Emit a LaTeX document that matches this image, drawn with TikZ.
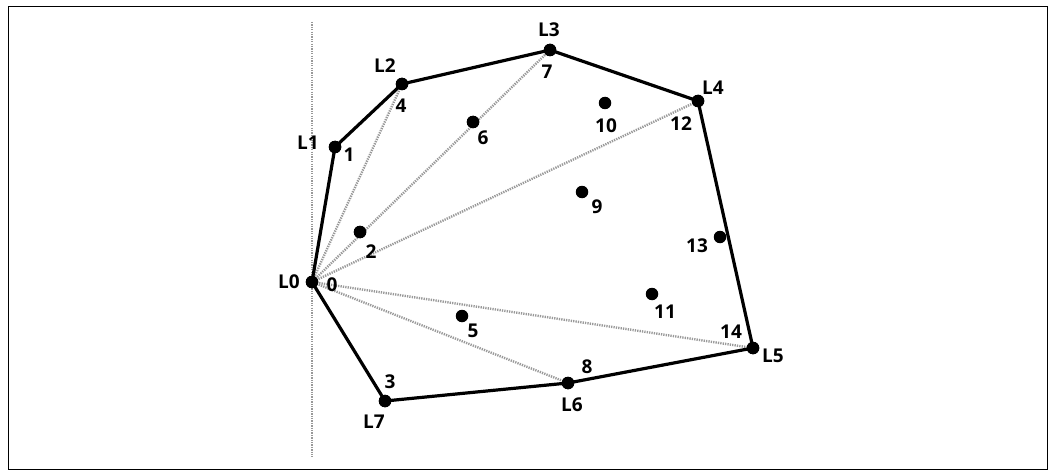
\documentclass[tikz,border=0pt]{standalone}
\usepackage{fontspec}
\setmainfont{Open Sans}
\begin{document}
\begin{tikzpicture}[x=1pt,y=-1pt,
  pt/.style={circle,fill=black,inner sep=0pt,minimum size=12.5pt},
  lab/.style={font=\bfseries\fontsize{19}{19}\selectfont,inner sep=0pt},
  hull/.style={line width=3.2pt,black},
  ray/.style={line width=2.4pt,gray!80,dash pattern=on 1.3pt off 1.1pt},
]
\useasboundingbox (0,0) rectangle (1055,476);
\draw[line width=1.6pt] (8.5,6.5) rectangle (1047.5,469.5);
% vertical dotted line
\coordinate (vt) at (312,22);
\coordinate (vb) at (312,457);
\draw[ray] (vt) -- (vb);
% points
\node[pt] (p0) at (312,282) {};
\node[pt] (p1) at (335,147) {};
\node[pt] (p4) at (402,84) {};
\node[pt] (p7) at (550,50) {};
\node[pt] (p12) at (698,101) {};
\node[pt] (p14) at (753,348) {};
\node[pt] (p8) at (568,383) {};
\node[pt] (p3) at (385,401) {};
\node[pt] (p2) at (360,232) {};
\node[pt] (p5) at (462,316) {};
\node[pt] (p6) at (473,122) {};
\node[pt] (p9) at (582,192) {};
\node[pt] (p10) at (605,103) {};
\node[pt] (p11) at (652,294) {};
\node[pt] (p13) at (720,237) {};
% rays from L0
\draw[ray] (p0.center) -- (p4.center);
\draw[ray] (p0.center) -- (p7.center);
\draw[ray] (p0.center) -- (p12.center);
\draw[ray] (p0.center) -- (p14.center);
\draw[ray] (p0.center) -- (p8.center);
% hull
\draw[hull,line join=round] (p0.center) -- (p1.center) -- (p4.center) -- (p7.center) -- (p12.center) -- (p14.center) -- (p8.center) -- (p3.center) -- cycle;
% redraw points on top
\foreach \n in {p0,p1,p4,p7,p12,p14,p8,p3,p2,p6}{\fill (\n) circle (6.25pt);}
% hull labels
\node[lab] (l0) at (289,282) {L0};
\node[lab] (l1) at (308,143) {L1};
\node[lab] (l2) at (385,66) {L2};
\node[lab] (l3) at (549,30) {L3};
\node[lab] (l4) at (713,88) {L4};
\node[lab] (l5) at (773,356) {L5};
\node[lab] (l6) at (572,405) {L6};
\node[lab] (l7) at (374,422) {L7};
% index labels
\node[lab] (n0) at (332,285) {0};
\node[lab] (n1) at (349,155) {1};
\node[lab] (n4) at (401,106) {4};
\node[lab] (n7) at (547,72) {7};
\node[lab] (n12) at (681,124) {12};
\node[lab] (n14) at (731,332) {14};
\node[lab] (n8) at (587,367) {8};
\node[lab] (n3) at (390,382) {3};
\node[lab] (n2) at (371,252) {2};
\node[lab] (n5) at (473,331) {5};
\node[lab] (n6) at (483,138) {6};
\node[lab] (n9) at (597,207) {9};
\node[lab] (n10) at (606,126) {10};
\node[lab] (n11) at (665,312) {11};
\node[lab] (n13) at (697,246) {13};
\end{tikzpicture}
\end{document}
